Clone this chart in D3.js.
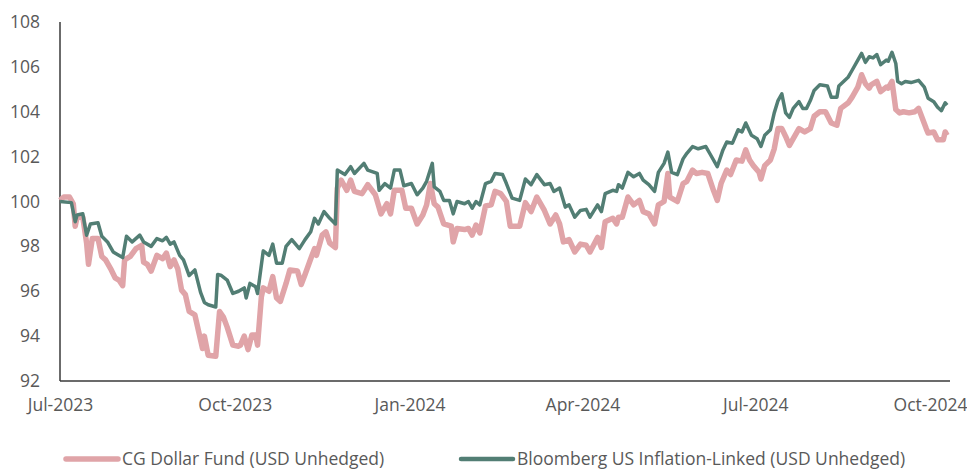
<!DOCTYPE html>
<html>
<head>
<meta charset="utf-8">
<script src="https://cdn.jsdelivr.net/npm/d3@7"></script>
<style>
  body { margin: 0; background: #fff; }
  text { font-family: "Open Sans", sans-serif; }
</style>
</head>
<body>
<div id="chart"></div>
<script>
// series values: [date, index value]
var fundSeries = [
  ["2023-07-01",100.05],["2023-07-03",100.2],["2023-07-06",100.2],["2023-07-08",99.9],["2023-07-09",98.9],
  ["2023-07-10",99.3],["2023-07-13",99.3],["2023-07-15",98.15],["2023-07-16",97.2],["2023-07-18",98.35],
  ["2023-07-21",98.35],["2023-07-23",97.55],["2023-07-25",97.4],["2023-07-28",96.95],["2023-07-30",96.6],
  ["2023-08-01",96.5],["2023-08-03",96.25],["2023-08-04",97.4],["2023-08-07",97.55],["2023-08-10",97.9],
  ["2023-08-13",98.05],["2023-08-14",97.3],["2023-08-16",97.2],["2023-08-18",96.9],["2023-08-21",97.6],
  ["2023-08-24",97.45],["2023-08-26",97.7],["2023-08-28",97.1],["2023-08-30",97.4],["2023-09-01",97.0],
  ["2023-09-03",96.05],["2023-09-05",95.85],["2023-09-07",95.1],["2023-09-10",94.95],["2023-09-12",94.2],
  ["2023-09-14",93.45],["2023-09-15",94.0],["2023-09-17",93.15],["2023-09-21",93.1],["2023-09-23",95.1],
  ["2023-09-25",94.85],["2023-09-27",94.4],["2023-09-30",93.6],["2023-10-03",93.55],["2023-10-04",93.6],
  ["2023-10-06",94.0],["2023-10-08",93.4],["2023-10-10",94.05],["2023-10-12",94.05],["2023-10-13",93.6],
  ["2023-10-15",95.75],["2023-10-16",96.15],["2023-10-19",96.0],["2023-10-21",96.65],["2023-10-23",95.7],
  ["2023-10-25",95.55],["2023-10-28",96.35],["2023-10-30",96.95],["2023-11-03",96.9],["2023-11-05",96.3],
  ["2023-11-07",96.75],["2023-11-10",97.45],["2023-11-12",97.9],["2023-11-13",97.6],["2023-11-16",98.5],
  ["2023-11-18",98.65],["2023-11-20",98.15],["2023-11-23",97.95],["2023-11-24",100.6],["2023-11-26",100.95],
  ["2023-11-29",100.5],["2023-12-01",100.95],["2023-12-03",100.45],["2023-12-07",100.35],["2023-12-10",100.75],
  ["2023-12-14",100.3],["2023-12-17",99.45],["2023-12-20",99.9],["2023-12-22",99.45],["2023-12-24",100.5],
  ["2023-12-28",100.5],["2023-12-30",99.7],["2024-01-02",99.7],["2024-01-05",99.0],["2024-01-08",99.4],
  ["2024-01-10",99.85],["2024-01-12",100.8],["2024-01-14",99.9],["2024-01-16",99.75],["2024-01-19",99.0],
  ["2024-01-23",98.9],["2024-01-24",98.2],["2024-01-26",98.8],["2024-01-30",98.75],["2024-02-01",98.8],
  ["2024-02-03",98.5],["2024-02-05",98.95],["2024-02-07",98.6],["2024-02-10",99.8],["2024-02-13",99.85],
  ["2024-02-15",100.45],["2024-02-18",100.35],["2024-02-21",100.0],["2024-02-23",98.9],["2024-02-28",98.9],
  ["2024-03-02",99.95],["2024-03-05",99.55],["2024-03-08",100.2],["2024-03-12",99.6],["2024-03-15",99.0],
  ["2024-03-18",99.4],["2024-03-20",99.0],["2024-03-22",98.2],["2024-03-25",98.3],["2024-03-28",97.75],
  ["2024-03-31",98.1],["2024-04-03",98.05],["2024-04-05",97.75],["2024-04-09",98.4],["2024-04-11",97.95],
  ["2024-04-13",99.1],["2024-04-17",99.25],["2024-04-19",99.0],["2024-04-20",99.3],["2024-04-22",99.3],
  ["2024-04-25",100.2],["2024-04-28",99.85],["2024-05-01",100.05],["2024-05-03",99.55],["2024-05-06",99.45],
  ["2024-05-09",99.0],["2024-05-11",99.85],["2024-05-14",100.0],["2024-05-16",101.25],["2024-05-17",100.2],
  ["2024-05-21",100.0],["2024-05-24",100.8],["2024-05-26",100.9],["2024-05-29",101.4],["2024-05-31",101.25],
  ["2024-06-03",101.3],["2024-06-06",101.25],["2024-06-09",100.5],["2024-06-11",100.05],["2024-06-13",100.8],
  ["2024-06-16",101.4],["2024-06-18",101.2],["2024-06-21",101.85],["2024-06-24",101.8],["2024-06-26",102.3],
  ["2024-06-28",101.85],["2024-06-30",101.6],["2024-07-03",101.3],["2024-07-04",101.0],["2024-07-06",101.6],
  ["2024-07-09",101.85],["2024-07-11",102.35],["2024-07-13",103.25],["2024-07-15",103.25],["2024-07-17",102.9],
  ["2024-07-19",102.5],["2024-07-21",102.8],["2024-07-24",103.25],["2024-07-27",103.1],["2024-07-30",103.25],
  ["2024-08-01",103.8],["2024-08-04",104.0],["2024-08-07",104.0],["2024-08-10",103.5],["2024-08-13",103.4],
  ["2024-08-15",104.15],["2024-08-19",104.4],["2024-08-21",104.65],["2024-08-24",105.1],["2024-08-26",105.65],
  ["2024-08-28",105.25],["2024-08-30",105.05],["2024-08-31",105.2],["2024-09-03",105.35],["2024-09-05",104.9],
  ["2024-09-08",105.1],["2024-09-09",105.05],["2024-09-11",105.35],["2024-09-13",104.1],["2024-09-15",103.95],
  ["2024-09-17",104.0],["2024-09-20",103.95],["2024-09-23",104.0],["2024-09-25",104.15],["2024-09-27",103.7],
  ["2024-09-29",103.25],["2024-09-30",103.05],["2024-10-03",103.1],["2024-10-05",102.75],["2024-10-08",102.75],
  ["2024-10-09",103.1],["2024-10-10",102.95]
];

var indexSeries = [
  ["2023-07-01",100.0],["2023-07-07",99.95],["2023-07-09",99.1],["2023-07-10",99.4],["2023-07-13",99.45],
  ["2023-07-15",98.5],["2023-07-17",99.0],["2023-07-21",99.05],["2023-07-23",98.45],["2023-07-26",98.2],
  ["2023-07-29",97.75],["2023-07-31",97.65],["2023-08-03",97.5],["2023-08-05",98.45],["2023-08-08",98.2],
  ["2023-08-12",98.5],["2023-08-14",98.2],["2023-08-18",98.0],["2023-08-21",98.35],["2023-08-24",98.25],
  ["2023-08-26",98.4],["2023-08-28",98.1],["2023-08-30",98.2],["2023-09-02",97.6],["2023-09-04",97.4],
  ["2023-09-07",96.7],["2023-09-10",96.95],["2023-09-13",95.95],["2023-09-15",95.5],["2023-09-17",95.4],
  ["2023-09-21",95.3],["2023-09-22",96.75],["2023-09-24",96.7],["2023-09-27",96.5],["2023-09-30",95.9],
  ["2023-10-03",96.0],["2023-10-06",96.15],["2023-10-07",95.7],["2023-10-09",96.35],["2023-10-12",96.2],
  ["2023-10-13",95.9],["2023-10-16",97.8],["2023-10-19",97.6],["2023-10-21",98.1],["2023-10-23",97.25],
  ["2023-10-26",97.25],["2023-10-28",98.0],["2023-10-31",98.3],["2023-11-04",97.9],["2023-11-07",98.3],
  ["2023-11-10",98.65],["2023-11-12",99.25],["2023-11-14",99.0],["2023-11-17",99.55],["2023-11-20",99.25],
  ["2023-11-23",99.0],["2023-11-24",101.4],["2023-11-28",101.2],["2023-12-01",101.55],["2023-12-03",101.25],
  ["2023-12-08",101.7],["2023-12-10",101.4],["2023-12-15",101.25],["2023-12-16",100.5],["2023-12-19",100.8],
  ["2023-12-22",100.6],["2023-12-24",101.4],["2023-12-27",101.4],["2023-12-29",100.7],["2024-01-02",100.8],
  ["2024-01-05",100.3],["2024-01-08",100.6],["2024-01-10",100.9],["2024-01-13",101.7],["2024-01-14",100.65],
  ["2024-01-17",100.45],["2024-01-19",100.05],["2024-01-22",100.05],["2024-01-24",99.45],["2024-01-26",100.0],
  ["2024-01-30",99.9],["2024-02-01",100.0],["2024-02-03",99.7],["2024-02-05",100.0],["2024-02-07",99.85],
  ["2024-02-10",100.8],["2024-02-13",100.9],["2024-02-15",101.25],["2024-02-19",101.2],["2024-02-21",100.8],
  ["2024-02-24",100.15],["2024-02-28",100.05],["2024-03-02",101.0],["2024-03-05",100.75],["2024-03-08",101.2],
  ["2024-03-12",100.75],["2024-03-15",100.8],["2024-03-17",100.45],["2024-03-20",100.6],["2024-03-23",99.75],
  ["2024-03-25",99.85],["2024-03-28",99.3],["2024-03-31",99.6],["2024-04-03",99.65],["2024-04-05",99.3],
  ["2024-04-09",99.85],["2024-04-11",99.55],["2024-04-13",100.35],["2024-04-17",100.5],["2024-04-19",100.45],
  ["2024-04-20",100.75],["2024-04-22",100.6],["2024-04-25",101.3],["2024-04-28",101.1],["2024-05-01",101.25],
  ["2024-05-03",100.95],["2024-05-06",100.75],["2024-05-09",100.45],["2024-05-11",101.3],["2024-05-14",101.7],
  ["2024-05-16",102.2],["2024-05-18",101.3],["2024-05-21",101.2],["2024-05-24",101.9],["2024-05-26",102.15],
  ["2024-05-29",102.45],["2024-06-01",102.35],["2024-06-05",102.45],["2024-06-07",102.15],["2024-06-11",101.55],
  ["2024-06-14",102.3],["2024-06-16",102.65],["2024-06-19",102.6],["2024-06-22",103.2],["2024-06-24",103.1],
  ["2024-06-26",103.5],["2024-06-29",102.95],["2024-07-02",102.8],["2024-07-04",102.45],["2024-07-06",102.95],
  ["2024-07-09",103.2],["2024-07-11",103.95],["2024-07-13",104.5],["2024-07-15",104.8],["2024-07-17",103.95],
  ["2024-07-19",103.75],["2024-07-21",104.15],["2024-07-24",104.45],["2024-07-26",104.15],["2024-07-28",104.15],
  ["2024-07-30",104.5],["2024-08-01",104.95],["2024-08-04",105.2],["2024-08-08",105.15],["2024-08-10",104.65],
  ["2024-08-13",104.65],["2024-08-14",105.15],["2024-08-19",105.55],["2024-08-21",105.85],["2024-08-24",106.3],
  ["2024-08-26",106.6],["2024-08-28",106.2],["2024-08-30",106.45],["2024-09-01",106.4],["2024-09-03",106.55],
  ["2024-09-05",106.1],["2024-09-08",106.3],["2024-09-09",106.25],["2024-09-11",106.65],["2024-09-13",106.15],
  ["2024-09-14",105.35],["2024-09-16",105.25],["2024-09-18",105.35],["2024-09-21",105.3],["2024-09-25",105.4],
  ["2024-09-28",105.1],["2024-09-30",104.6],["2024-10-03",104.45],["2024-10-05",104.2],["2024-10-07",104.05],
  ["2024-10-09",104.4],["2024-10-10",104.3]
];

var seriesNames = ["CG Dollar Fund (USD Unhedged)", "Bloomberg US Inflation-Linked (USD Unhedged)"];
var xTickDates = ["2023-07-01","2023-10-01","2024-01-01","2024-04-01","2024-07-01","2024-10-01"];
var yTicks = [92, 94, 96, 98, 100, 102, 104, 106, 108];

//Chart Settings
var settings = {
  width: 967,
  height: 471,
  left: 60,
  right: 949,
  top: 22,
  bottom: 381,
  fundColor: "#e0a4a8",
  indexColor: "#527e74",
  labelColor: "#595959",
  fontSize: 17.5
}

var parseDate = d3.timeParse("%Y-%m-%d");

var svg = d3.select("#chart")
  .append("svg")
  .attr("width", settings.width)
  .attr("height", settings.height);

//X scale - time
var x = d3.scaleTime()
  .domain([parseDate("2023-07-01"), parseDate("2024-10-11")])
  .range([settings.left, settings.right]);

//Y scale
var y = d3.scaleLinear()
  .domain([92, 108])
  .range([settings.bottom, settings.top]);

//X axis - labels only, plain baseline
svg.append("g")
  .attr("transform", "translate(0," + settings.bottom + ")")
  .call(d3.axisBottom(x)
    .tickValues(xTickDates.map(parseDate))
    .tickFormat(d3.timeFormat("%b-%Y"))
    .tickSize(0)
    .tickPadding(18))
  .call(g => g.select(".domain").remove())
  .call(g => g.selectAll("text")
    .attr("fill", settings.labelColor)
    .style("font-size", settings.fontSize + "px")
    .style("font-family", "'Open Sans', sans-serif"));

//Y axis
svg.append("g")
  .attr("transform", "translate(" + settings.left + ",0)")
  .call(d3.axisLeft(y)
    .tickValues(yTicks)
    .tickSize(0)
    .tickPadding(20))
  .call(g => g.select(".domain").remove())
  .call(g => g.selectAll("text")
    .attr("fill", settings.labelColor)
    .style("font-size", settings.fontSize + "px")
    .style("font-family", "'Open Sans', sans-serif"));

//Axis lines
svg.append("line")
  .attr("x1", settings.left).attr("x2", settings.left)
  .attr("y1", settings.top).attr("y2", settings.bottom)
  .attr("stroke", "#3a3a3a").attr("stroke-width", 1.5);
svg.append("line")
  .attr("x1", settings.left).attr("x2", settings.right + 1)
  .attr("y1", settings.bottom).attr("y2", settings.bottom)
  .attr("stroke", "#3a3a3a").attr("stroke-width", 1.5);

var line = d3.line()
  .x(d => x(parseDate(d[0])))
  .y(d => y(d[1]));

//Lines - fund under, index on top
svg.append("path")
  .datum(fundSeries)
  .attr("fill", "none")
  .attr("stroke", settings.fundColor)
  .attr("stroke-width", 5.5)
  .attr("stroke-linejoin", "round")
  .attr("d", line);

svg.append("path")
  .datum(indexSeries)
  .attr("fill", "none")
  .attr("stroke", settings.indexColor)
  .attr("stroke-width", 3.5)
  .attr("stroke-linejoin", "round")
  .attr("d", line);

//Legend
var legend = [
  {name: seriesNames[0], color: settings.fundColor, x: 66, w: 5.5},
  {name: seriesNames[1], color: settings.indexColor, x: 461, w: 4.5}
];
var lg = svg.selectAll(".legend")
  .data(legend)
  .join("g")
  .attr("class", "legend")
  .attr("transform", d => "translate(" + d.x + ",459)");
lg.append("line")
  .attr("x1", 0).attr("x2", 52)
  .attr("stroke", d => d.color)
  .attr("stroke-width", d => d.w)
  .attr("stroke-linecap", "round");
lg.append("text")
  .attr("x", 56)
  .attr("dy", "0.35em")
  .attr("fill", settings.labelColor)
  .style("font-size", settings.fontSize + "px")
  .text(d => d.name);
</script>
</body>
</html>
